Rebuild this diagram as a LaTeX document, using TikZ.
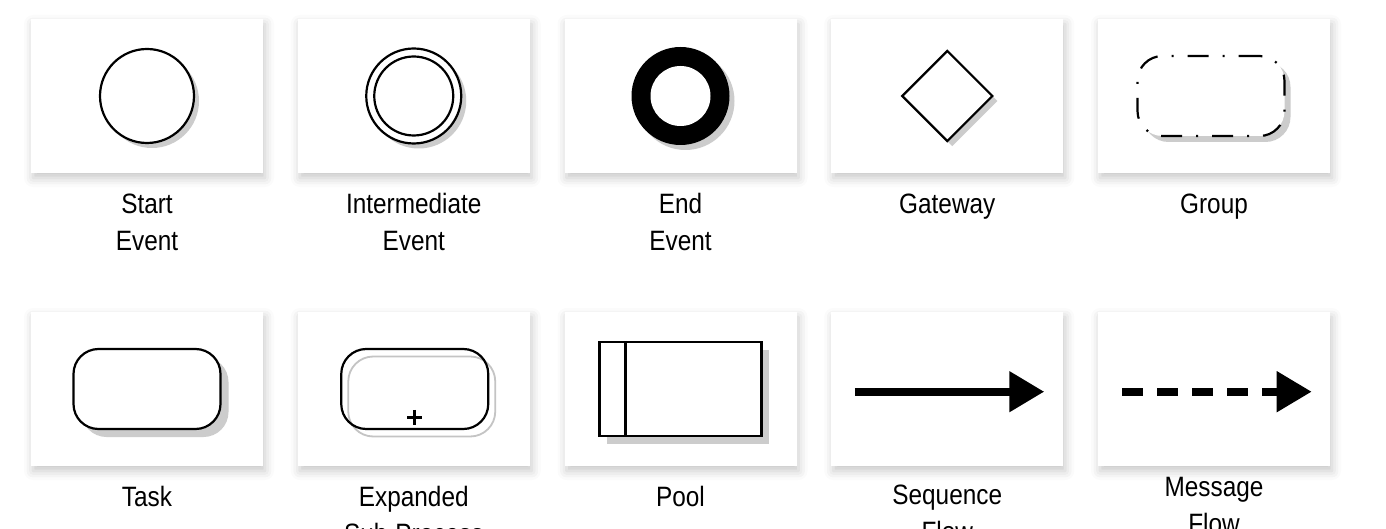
\documentclass[tikz,border=0pt]{standalone}
\usepackage{fontspec}
\setmainfont{Liberation Sans}[FakeStretch=0.87]
\usetikzlibrary{positioning,calc,shapes.geometric,shadows,shadows.blur,arrows.meta}
\definecolor{shgray}{HTML}{CCCCCC}
\definecolor{subgray}{HTML}{C4C4C4}
\tikzset{
  card/.style={rectangle, fill=white, minimum width=232pt, minimum height=154pt,
    inner sep=0pt, outer sep=0pt,
    blur shadow={shadow xshift=2pt, shadow yshift=-5pt, shadow blur radius=9pt, shadow opacity=22}},
  lbl/.style={align=center, font=\fontsize{28}{37}\selectfont, inner sep=0pt},
  shp/.style={draw, fill=white, line width=2.2pt, inner sep=0pt},
  shd/.style={drop shadow={shadow xshift=#1, shadow yshift=-#1, opacity=1, fill=shgray}},
  rnd/.style={rectangle, rounded corners=25pt, minimum width=147pt, minimum height=80pt},
  seqflow/.style={line width=8pt, -{Triangle[length=35pt,width=39pt]}},
  msgflow/.style={seqflow, dash pattern=on 21pt off 14pt}
}
\begin{document}
\begin{tikzpicture}[x=1pt,y=-1pt]
\useasboundingbox (0,0) rectangle (1386,529);

\node[card] (cstart) at (147,96) {};
\node[card, right=34.75pt of cstart] (cinter) {};
\node[card, right=34.75pt of cinter] (cend) {};
\node[card, right=34.75pt of cend] (cgate) {};
\node[card, right=34.75pt of cgate] (cgroup) {};
\node[card, below=139pt of cstart] (ctask) {};
\node[card, right=34.75pt of ctask] (csub) {};
\node[card, right=34.75pt of csub] (cpool) {};
\node[card, right=34.75pt of cpool] (cseq) {};
\node[card, right=34.75pt of cseq] (cmsg) {};

\node[shp, circle, minimum size=94pt, shd=5pt] (start) at (cstart) {};
\node[shp, circle, minimum size=95pt, shd=5pt] (inter) at (cinter) {};
\node[shp, circle, minimum size=79pt, fill=none] (interin) at (inter) {};
\node[circle, fill=black, minimum size=98pt, inner sep=0pt, shd=5pt] (endev) at (cend) {};
\node[circle, fill=white, minimum size=60pt, inner sep=0pt] (endin) at (endev) {};
\node[shp, diamond, aspect=1, minimum size=91pt, shd=5pt] (gate) at (cgate) {};
\node[shp, rnd, dash pattern=on 21pt off 14pt on 2pt off 14pt, shd=6pt, xshift=-3pt] (grp) at (cgroup) {};

\node[shp, rnd, shd=8pt] (task) at (ctask) {};
\node[rnd, draw=subgray, line width=1.8pt, inner sep=0pt, xshift=8pt, yshift=-7.5pt] (subsh) at (csub) {};
\node[shp, rnd, fill=none, xshift=1pt] (sub) at (csub) {};
\draw[line width=2.6pt] ($(sub.south)+(-7.5,-12.7)$) -- ++(15,0)
  ($(sub.south)+(0,-20.2)$) -- ++(0,15);
\node[shp, rectangle, minimum width=162pt, minimum height=94pt, shd=7.5pt] (pool) at (cpool) {};
\draw[line width=2.2pt] ($(pool.north west)+(27,0)$) -- ($(pool.south west)+(27,0)$);
\coordinate (sqa) at ($(cseq)+(-92.5,2.7)$);
\coordinate (sqb) at ($(cseq)+(97,2.7)$);
\draw[seqflow] (sqa) -- (sqb);
\coordinate (msa) at ($(cmsg)+(-91.7,2.7)$);
\coordinate (msb) at ($(cmsg)+(97.7,2.7)$);
\draw[msgflow] (msa) -- (msb);

\node[lbl, below=78pt of cstart.south, anchor=base] (lstart) {Start\\Event};
\node[lbl, below=78pt of cinter.south, anchor=base] (linter) {Intermediate\\Event};
\node[lbl, below=78pt of cend.south, anchor=base] (lend) {End\\Event};
\node[lbl, below=41pt of cgate.south, anchor=base] (lgate) {Gateway};
\node[lbl, below=41pt of cgroup.south, anchor=base] (lgroup) {Group};
\node[lbl, below=40pt of ctask.south, anchor=base] (ltask) {Task};
\node[lbl, below=77pt of csub.south, anchor=base] (lsub) {Expanded\\Sub-Process};
\node[lbl, below=40pt of cpool.south, anchor=base] (lpool) {Pool};
\node[lbl, below=75pt of cseq.south, anchor=base] (lseq) {Sequence\\Flow};
\node[lbl, below=67pt of cmsg.south, anchor=base] (lmsg) {Message\\Flow};
\end{tikzpicture}
\end{document}
